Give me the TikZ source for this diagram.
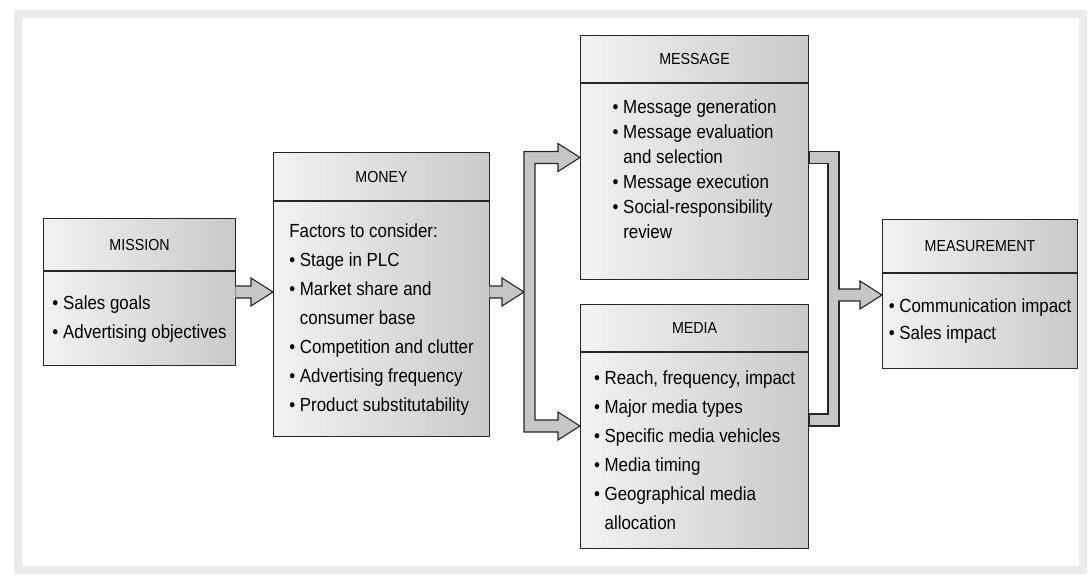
\documentclass[tikz,border=0pt]{standalone}
\usepackage{fontspec}
\setmainfont{Liberation Sans}[FakeStretch=0.89]
\usetikzlibrary{positioning,calc}

\newcommand\itm{\textbullet\ }
\newcommand\cnt{\phantom{\textbullet\ }}
\newcommand\harrow[2]{%
  \draw[blk] let \p1=(#1), \p2=(#2) in
    (\x1-0.8pt,\y1+6pt) -- (\x2-22pt,\y1+6pt) -- (\x2-22pt,\y1+14pt) -- (\x2,\y1)
    -- (\x2-22pt,\y1-14pt) -- (\x2-22pt,\y1-6pt) -- (\x1-0.8pt,\y1-6pt);}

\begin{document}
\begin{tikzpicture}[
    x=1pt, y=-1pt,
    box/.style={draw=black!85, line width=1.1pt, left color=gray!10, right color=gray!42, inner sep=0pt},
    ttl/.style={box, anchor=north west, align=center, font=\fontsize{16}{18}\selectfont},
    bdy/.style={box, align=left, font=\fontsize{19}{29}\selectfont},
    blk/.style={draw=black!85, line width=1.1pt, fill=gray!45, line join=miter}
  ]
    \useasboundingbox (0,0) rectangle (1091,578);
    \draw[gray!16, line width=8pt] (18,14) rectangle (1083,570);

    \node[ttl, minimum width=192pt, minimum height=52pt] (mission) at (43,218) {MISSION};
    \node[bdy, minimum width=192pt, minimum height=94pt, below=0pt of mission] (missionb)
      {\itm Sales goals\\ \itm Advertising objectives};

    \node[ttl, minimum width=216pt, minimum height=48pt] (money) at (273,152) {MONEY};
    \node[bdy, minimum width=216pt, minimum height=235pt, below=0pt of money] (moneyb)
      {Factors to consider:\\ \itm Stage in PLC\\ \itm Market share and\\ \cnt consumer base\\
       \itm Competition and clutter\\ \itm Advertising frequency\\ \itm Product substitutability};

    \node[ttl, minimum width=228pt, minimum height=47pt] (message) at (580,35) {MESSAGE};
    \node[bdy, font=\fontsize{19}{25}\selectfont, minimum width=228pt, minimum height=196pt, below=0pt of message] (messageb)
      {\itm Message generation\\ \itm Message evaluation\\ \cnt and selection\\ \itm Message execution\\
       \itm Social-responsibility\\ \cnt review\\ \mbox{}};

    \node[ttl, minimum width=228pt, minimum height=47pt] (media) at (580,304) {MEDIA};
    \node[bdy, minimum width=228pt, minimum height=196pt, below=0pt of media] (mediab)
      {\itm Reach, frequency, impact\\ \itm Major media types\\ \itm Specific media vehicles\\
       \itm Media timing\\ \itm Geographical media\\ \cnt allocation};

    \node[ttl, minimum width=195pt, minimum height=53pt] (measure) at (882,219) {MEASUREMENT};
    \node[bdy, font=\fontsize{19}{27}\selectfont, minimum width=195pt, minimum height=95pt, below=0pt of measure] (measureb)
      {\itm Communication impact\\ \itm Sales impact};

    \coordinate (lvlA) at (0,292);
    \coordinate (lvlB) at (0,295);
    \coordinate (armT) at (0,157.5);
    \coordinate (armB) at (0,426);
    \coordinate (armR) at (0,420);
    \coordinate (jl) at (524,0);
    \coordinate (jr) at (839,0);

    \harrow{missionb.east |- lvlA}{moneyb.west |- lvlA}
    \harrow{moneyb.east |- lvlA}{jl |- lvlA}

    \draw[blk] let \p1=(jl |- armT), \p2=(messageb.west |- armT), \p3=(jl |- armB), \p4=(mediab.west |- armB) in
      (\x1,\y1+6pt) -- (\x2-22pt,\y1+6pt) -- (\x2-22pt,\y1+14pt) -- (\x2,\y1) -- (\x2-22pt,\y1-14pt)
      -- (\x2-22pt,\y1-6pt) -- (\x1+11pt,\y1-6pt) -- (\x1+11pt,\y3+6pt) -- (\x4-22pt,\y3+6pt)
      -- (\x4-22pt,\y3+14pt) -- (\x4,\y3) -- (\x4-22pt,\y3-14pt) -- (\x4-22pt,\y3-6pt) -- (\x1,\y3-6pt) -- cycle;

    \draw[blk] let \p1=(messageb.east |- armT), \p2=(jr |- armT), \p3=(mediab.east |- armR) in
      (\x1,\y1+6pt) -- (\x2,\y1+6pt) -- (\x2,\y3-6pt) -- (\x1,\y3-6pt) -- (\x1,\y3+6pt)
      -- (\x2-11pt,\y3+6pt) -- (\x2-11pt,\y1-6pt) -- (\x1,\y1-6pt) -- cycle;

    \harrow{jr |- lvlB}{measureb.west |- lvlB}
\end{tikzpicture}
\end{document}
